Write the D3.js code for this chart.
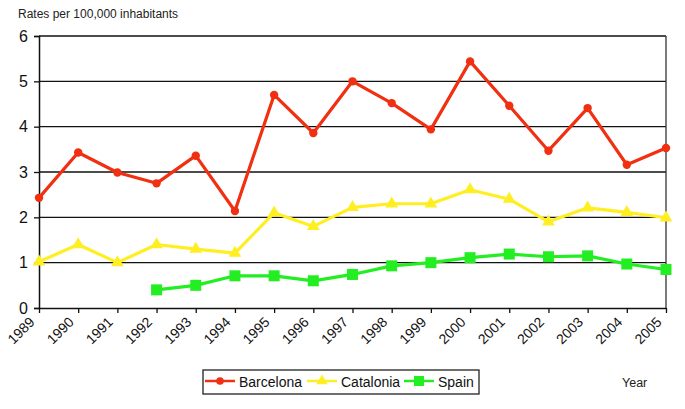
<!DOCTYPE html>
<html><head><meta charset="utf-8">
<script src="https://cdn.jsdelivr.net/npm/d3@7"></script>
<style>body{margin:0;background:#fff;} text{font-family:"Liberation Sans",Arial,sans-serif;}</style>
</head><body>
<svg id="c" width="685" height="409"></svg>
<script>
const years = [1989,1990,1991,1992,1993,1994,1995,1996,1997,1998,1999,2000,2001,2002,2003,2004,2005];
const barcelona = [2.43,3.43,2.99,2.75,3.36,2.14,4.70,3.86,5.00,4.52,3.94,5.44,4.46,3.47,4.41,3.16,3.53];
const catalonia = [1.02,1.40,1.00,1.40,1.30,1.21,2.10,1.80,2.22,2.30,2.30,2.61,2.40,1.90,2.21,2.11,1.99];
const spain = [null,null,null,0.40,0.50,0.71,0.71,0.60,0.74,0.93,1.00,1.11,1.19,1.13,1.15,0.97,0.85];
const yTicks = [0,1,2,3,4,5,6];
const seriesNames = ["Barcelona","Catalonia","Spain"];
const seriesColors = ["#f03010","#ffee22","#22ee22"];

const svg = d3.select("#c");
const L=39, R=666, T=36, B=308;
const x = d3.scaleLinear().domain([1989,2005]).range([L,R]);
const y = d3.scaleLinear().domain([0,6]).range([B,T]);

// gridlines
svg.append("g").selectAll("line").data(yTicks.filter(d=>d>0)).join("line")
  .attr("x1",L).attr("x2",R).attr("y1",d=>y(d)).attr("y2",d=>y(d))
  .attr("stroke","#111").attr("stroke-width",1.3);
// right border
svg.append("line").attr("x1",R).attr("x2",R).attr("y1",T).attr("y2",B).attr("stroke","#333").attr("stroke-width",1.3);

// y axis
const ya = svg.append("g").attr("transform",`translate(${L},0)`)
  .call(d3.axisLeft(y).tickValues(yTicks).tickFormat(d3.format("d")).tickSize(5).tickPadding(6));
ya.select(".domain").attr("stroke","#111").attr("stroke-width",1.5);
ya.selectAll(".tick line").attr("stroke","#111").attr("stroke-width",1.3);
ya.selectAll("text").attr("font-size",16).attr("fill","#111").style("font-family","Liberation Sans, Arial");

// x axis
const xa = svg.append("g").attr("transform",`translate(0,${B})`)
  .call(d3.axisBottom(x).tickValues(years).tickFormat(d3.format("d")).tickSize(5).tickSizeOuter(0));
xa.select(".domain").attr("stroke","#111").attr("stroke-width",1.5);
xa.selectAll(".tick line").attr("stroke","#111").attr("stroke-width",1.3);
xa.selectAll("text").attr("font-size",14).attr("fill","#111")
  .attr("text-anchor","end").attr("dy",null).attr("y",0)
  .attr("transform","translate(-4,15) rotate(-45)").style("font-family","Liberation Sans, Arial");

// series
const allSeries = [barcelona,catalonia,spain];
const line = d3.line().defined(d=>d[1]!=null).x(d=>x(d[0])).y(d=>y(d[1]));
allSeries.forEach((vals,i)=>{
  const pts = years.map((yr,j)=>[yr,vals[j]]);
  svg.append("path").datum(pts).attr("d",line).attr("fill","none")
    .attr("stroke",seriesColors[i]).attr("stroke-width",3.2).attr("stroke-linejoin","round");
  const g = svg.append("g");
  const data = pts.filter(d=>d[1]!=null);
  if(i===0){
    g.selectAll("circle").data(data).join("circle").attr("cx",d=>x(d[0])).attr("cy",d=>y(d[1])).attr("r",4.2).attr("fill",seriesColors[i]);
  } else if(i===1){
    g.selectAll("path").data(data).join("path")
      .attr("d",d3.symbol(d3.symbolTriangle,70)).attr("transform",d=>`translate(${x(d[0])},${y(d[1])})`).attr("fill",seriesColors[i]);
  } else {
    g.selectAll("rect").data(data).join("rect").attr("x",d=>x(d[0])-5.5).attr("y",d=>y(d[1])-5.5).attr("width",11).attr("height",11).attr("fill",seriesColors[i]);
  }
});

// title
svg.append("text").attr("x",18).attr("y",18).attr("font-size",12).attr("fill","#222").text("Rates per 100,000 inhabitants");
// Year
svg.append("text").attr("x",622).attr("y",387).attr("font-size",12.5).attr("fill","#222").text("Year");

// legend
const lg = svg.append("g");
lg.append("rect").attr("x",203).attr("y",370).attr("width",276).attr("height",24).attr("fill","#fff").attr("stroke","#222").attr("stroke-width",1.3);
const lx = [205, 307, 404];
seriesNames.forEach((n,i)=>{
  const cx = lx[i];
  lg.append("line").attr("x1",cx).attr("x2",cx+30).attr("y1",381).attr("y2",381).attr("stroke",seriesColors[i]).attr("stroke-width",2.5);
  if(i===0) lg.append("circle").attr("cx",cx+15).attr("cy",381).attr("r",3.8).attr("fill",seriesColors[i]);
  else if(i===1) lg.append("path").attr("d",d3.symbol(d3.symbolTriangle,55)).attr("transform",`translate(${cx+15},381)`).attr("fill",seriesColors[i]);
  else lg.append("rect").attr("x",cx+10).attr("y",376).attr("width",10).attr("height",10).attr("fill",seriesColors[i]);
  lg.append("text").attr("x",cx+34).attr("y",386.5).attr("font-size",14).attr("fill","#111").text(n);
});
</script>
</body></html>
